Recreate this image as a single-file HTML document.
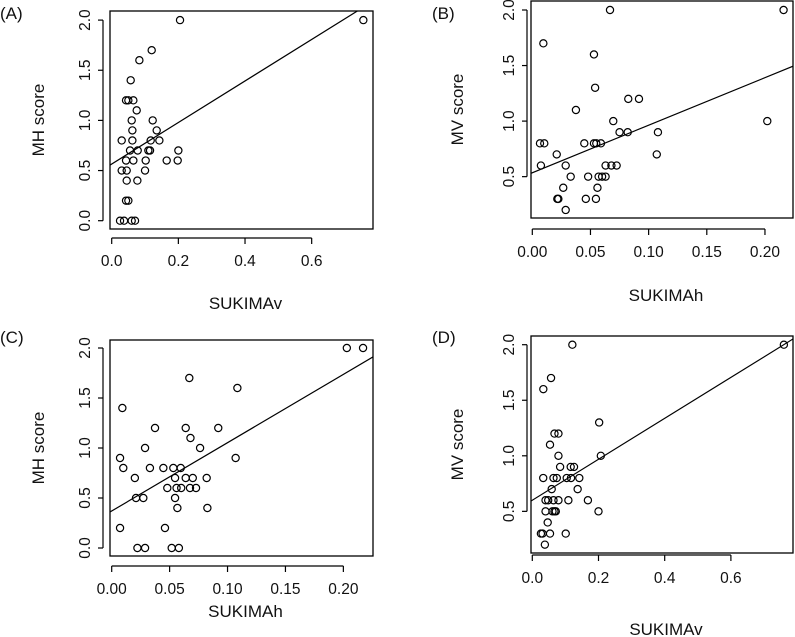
<!DOCTYPE html>
<html><head><meta charset="utf-8">
<style>
html,body{margin:0;padding:0;background:#fff;}
svg{display:block;font-family:"Liberation Sans",Arial,sans-serif;}
</style></head>
<body>
<svg id="fig" width="795" height="637" viewBox="0 0 795 637" xmlns="http://www.w3.org/2000/svg"></svg>
<script>
// Panel A: SUKIMAv vs MH score
const aX = [0.755,0.205,0.12,0.083,0.057,0.043,0.05,0.065,0.075,0.06,0.123,0.062,0.135,0.03,0.062,0.117,0.143,0.055,0.078,0.11,0.115,0.2,0.043,0.065,0.102,0.165,0.198,0.03,0.045,0.1,0.045,0.077,0.043,0.05,0.025,0.037,0.06,0.07];
const aY = [2.0,2.0,1.7,1.6,1.4,1.2,1.2,1.2,1.1,1.0,1.0,0.9,0.9,0.8,0.8,0.8,0.8,0.7,0.7,0.7,0.7,0.7,0.6,0.6,0.6,0.6,0.6,0.5,0.5,0.5,0.4,0.4,0.2,0.2,0,0,0,0];
const aFit = [0.565, 2.07];
// Panel B: SUKIMAh vs MV score
const bX = [0.0668,0.216,0.0095,0.053,0.054,0.0825,0.0917,0.0375,0.0696,0.202,0.075,0.082,0.108,0.0066,0.0103,0.0447,0.053,0.055,0.059,0.021,0.107,0.0074,0.0287,0.063,0.068,0.0725,0.033,0.048,0.057,0.06,0.063,0.0266,0.056,0.0215,0.0224,0.046,0.0547,0.0287];
const bY = [2.0,2.0,1.7,1.6,1.3,1.2,1.2,1.1,1.0,1.0,0.9,0.9,0.9,0.8,0.8,0.8,0.8,0.8,0.8,0.7,0.7,0.6,0.6,0.6,0.6,0.6,0.5,0.5,0.5,0.5,0.5,0.4,0.4,0.3,0.3,0.3,0.3,0.2];
const bFit = [0.535, 4.28];
// Panel C: SUKIMAh vs MH score
const cX = [0.203,0.217,0.067,0.1085,0.0092,0.0374,0.0639,0.092,0.068,0.0288,0.0763,0.0072,0.107,0.01,0.033,0.0446,0.0532,0.0596,0.02,0.0547,0.0639,0.07,0.082,0.048,0.056,0.06,0.0676,0.0728,0.021,0.0273,0.0547,0.0567,0.0826,0.0072,0.046,0.0222,0.0288,0.0518,0.058];
const cY = [2,2,1.7,1.6,1.4,1.2,1.2,1.2,1.1,1.0,1.0,0.9,0.9,0.8,0.8,0.8,0.8,0.8,0.7,0.7,0.7,0.7,0.7,0.6,0.6,0.6,0.6,0.6,0.5,0.5,0.5,0.4,0.4,0.2,0.2,0,0,0,0];
const cFit = [0.37, 6.83];
// Panel D: SUKIMAv vs MV score
const dX = [0.76,0.121,0.0566,0.0333,0.202,0.067,0.079,0.0535,0.079,0.207,0.084,0.116,0.126,0.033,0.064,0.074,0.104,0.117,0.142,0.0586,0.137,0.04,0.048,0.064,0.079,0.109,0.168,0.04,0.061,0.067,0.071,0.2,0.0465,0.026,0.031,0.0535,0.101,0.038];
const dY = [2,2,1.7,1.6,1.3,1.2,1.2,1.1,1.0,1.0,0.9,0.9,0.9,0.8,0.8,0.8,0.8,0.8,0.8,0.7,0.7,0.6,0.6,0.6,0.6,0.6,0.6,0.5,0.5,0.5,0.5,0.5,0.4,0.3,0.3,0.3,0.3,0.2];
const dFit = [0.6, 1.843];
// Tick values and labels
const xTicksV = [0,0.2,0.4,0.6];
const xLabelsV = ["0.0","0.2","0.4","0.6"];
const xTicksH = [0,0.05,0.1,0.15,0.2];
const xLabelsH = ["0.00","0.05","0.10","0.15","0.20"];
const yTicksFull = [0,0.5,1,1.5,2];
const yLabelsFull = ["0.0","0.5","1.0","1.5","2.0"];
const yTicksMV = [0.5,1,1.5,2];
const yLabelsMV = ["0.5","1.0","1.5","2.0"];

const NS = "http://www.w3.org/2000/svg";
const svg = document.getElementById('fig');
function mk(tag, attrs, parent){
  const e = document.createElementNS(NS, tag);
  for (const k in attrs) e.setAttribute(k, attrs[k]);
  parent.appendChild(e);
  return e;
}

function panel(cfg){
  const g = mk('g', {}, svg);
  
  
  const sx = v => cfg.x0 + v * cfg.kx;
  const sy = v => cfg.y0 - v * cfg.ky;
  const box = mk('rect', {x:cfg.bx1, y:cfg.by1, width:cfg.bx2-cfg.bx1, height:cfg.by2-cfg.by1, fill:'none', stroke:'#000', 'stroke-width':1.3}, g);
  
  
  const cp = mk('clipPath', {id:'clip'+cfg.id}, g);
  mk('rect', {x:cfg.bx1, y:cfg.by1, width:cfg.bx2-cfg.bx1, height:cfg.by2-cfg.by1}, cp);
  const xa = mk('g', {}, g);
  
  
  mk('line', {x1:sx(cfg.xt[0]), x2:sx(cfg.xt[cfg.xt.length-1]), y1:cfg.xAxisY, y2:cfg.xAxisY, stroke:'#000','stroke-width':1.2}, xa);
  cfg.xt.forEach((t,i)=>{
    mk('line', {x1:sx(t), x2:sx(t), y1:cfg.xAxisY, y2:cfg.xAxisY+6, stroke:'#000','stroke-width':1.2}, xa);
    const tx = mk('text', {x:sx(t), y:cfg.xAxisY+28, 'text-anchor':'middle','font-size':15.5, fill:'#111'}, xa);
    tx.textContent = cfg.xl[i];
    
    
  });
  const xt = mk('text', {x:(cfg.bx1+cfg.bx2)/2+4, y:cfg.xTitleY, 'text-anchor':'middle','font-size':17, fill:'#111'}, g);
  xt.textContent = cfg.xTitle;
  
  
  const ya = mk('g', {}, g);
  
  
  mk('line', {x1:cfg.yAxisX, x2:cfg.yAxisX, y1:sy(cfg.yt[0]), y2:sy(cfg.yt[cfg.yt.length-1]), stroke:'#000','stroke-width':1.2}, ya);
  cfg.yt.forEach((t,i)=>{
    mk('line', {x1:cfg.yAxisX-5, x2:cfg.yAxisX, y1:sy(t), y2:sy(t), stroke:'#000','stroke-width':1.2}, ya);
    const lx = cfg.yAxisX - 13, ly = sy(t);
    const tx = mk('text', {x:lx, y:ly, 'text-anchor':'middle','font-size':15.5, fill:'#111', transform:`rotate(-90 ${lx} ${ly})`}, ya);
    tx.textContent = cfg.yl[i];
    
    
  });
  const ytx = cfg.yTitleX, yty = (cfg.by1+cfg.by2)/2;
  const yt = mk('text', {x:ytx, y:yty, 'text-anchor':'middle','font-size':17, fill:'#111', transform:`rotate(-90 ${ytx} ${yty})`}, g);
  yt.textContent = cfg.yTitle;
  
  
  const pl = mk('text', {x:cfg.lx, y:cfg.ly, 'font-size':17, fill:'#111'}, g);
  pl.textContent = '(' + cfg.id + ')';
  
  
  const xa0 = (cfg.bx1 - cfg.x0)/cfg.kx, xa1 = (cfg.bx2 - cfg.x0)/cfg.kx;
  const rl = mk('line', {x1:sx(xa0), y1:sy(cfg.fit[0]+cfg.fit[1]*xa0), x2:sx(xa1), y2:sy(cfg.fit[0]+cfg.fit[1]*xa1), stroke:'#000','stroke-width':1.2,'clip-path':`url(#clip${cfg.id})`}, g);
  
  
  cfg.xs.forEach((v,i)=>{
    const c = mk('circle', {cx:sx(v), cy:sy(cfg.ys[i]), r:3.6, fill:'none', stroke:'#000','stroke-width':1.2}, g);
    
    
  });
}

panel({id:'A', xs:aX, ys:aY, fit:aFit, x0:111.7, kx:333.3, y0:220.7, ky:100.3,
  bx1:110, bx2:373, by1:11, by2:229, xAxisY:238, yAxisX:103, xt:xTicksV, xl:xLabelsV, yt:yTicksFull, yl:yLabelsFull,
  xTitle:'SUKIMAv', yTitle:'MH score', xTitleY:309, yTitleX:44, lx:0, ly:19});
panel({id:'B', xs:bX, ys:bY, fit:bFit, x0:532.3, kx:1163.3, y0:232.2, ky:111.1,
  bx1:531, bx2:793, by1:1, by2:218, xAxisY:229, yAxisX:527, xt:xTicksH, xl:xLabelsH, yt:yTicksMV, yl:yLabelsMV,
  xTitle:'SUKIMAh', yTitle:'MV score', xTitleY:301, yTitleX:463, lx:432, ly:19});
panel({id:'C', xs:cX, ys:cY, fit:cFit, x0:111.7, kx:1158.3, y0:548, ky:100,
  bx1:110, bx2:373, by1:340, by2:556, xAxisY:566, yAxisX:103, xt:xTicksH, xl:xLabelsH, yt:yTicksFull, yl:yLabelsFull,
  xTitle:'SUKIMAh', yTitle:'MH score', xTitleY:617, yTitleX:44, lx:0, ly:343});
panel({id:'D', xs:dX, ys:dY, fit:dFit, x0:532.3, kx:331, y0:566.9, ky:111.1,
  bx1:531, bx2:793, by1:336, by2:553, xAxisY:555, yAxisX:527, xt:xTicksV, xl:xLabelsV, yt:yTicksMV, yl:yLabelsMV,
  xTitle:'SUKIMAv', yTitle:'MV score', xTitleY:635, yTitleX:463, lx:432, ly:343});
</script>
</body></html>
